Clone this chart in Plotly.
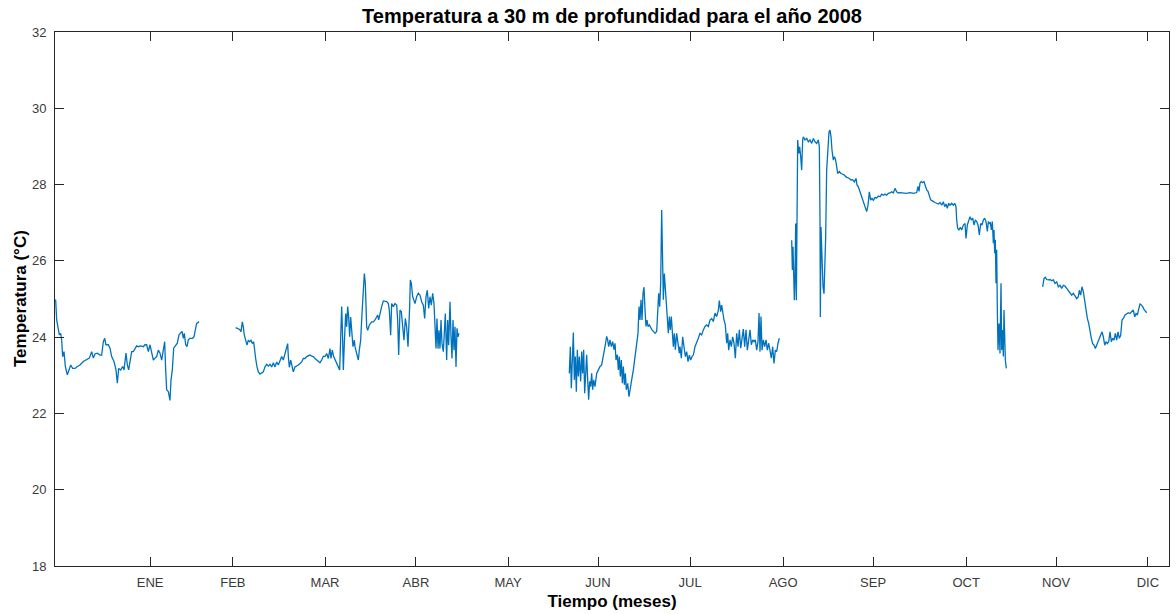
import plotly.graph_objects as go

# Serie de temperatura a 30 m, en tramos separados por huecos sin registro.
# Cada tramo: pares (día, temperatura en °C).
tramo_ene = [
    (0.0, 24.96), (0.22, 24.98), (0.56, 24.45), (1.11, 24.23), (1.44, 24.06), (1.89, 24.10),
    (2.22, 23.93), (2.56, 23.49), (3.0, 23.62), (3.44, 23.23), (4.11, 23.01), (4.67, 23.14),
    (5.22, 23.27), (5.89, 23.18), (6.67, 23.18), (7.44, 23.23), (8.33, 23.27), (9.44, 23.36),
    (10.56, 23.40), (11.44, 23.45), (12.22, 23.62), (12.78, 23.45), (13.33, 23.56), (14.11, 23.58),
    (15.0, 23.53), (15.56, 23.53), (16.11, 23.88), (16.56, 23.97), (17.0, 23.80), (17.78, 23.80),
    (18.33, 23.71), (18.89, 23.49), (19.67, 23.36), (20.33, 23.14), (20.78, 22.79), (21.22, 23.18),
    (21.89, 23.14), (22.56, 23.23), (23.0, 23.14), (23.67, 23.58), (24.11, 23.27), (24.56, 23.14),
    (25.0, 23.36), (25.56, 23.62), (26.11, 23.62), (26.67, 23.71), (27.22, 23.77), (27.78, 23.75),
    (28.56, 23.77), (29.44, 23.75), (30.0, 23.80), (30.56, 23.80), (31.11, 23.62), (31.67, 23.80),
    (32.22, 23.58), (32.78, 23.40), (33.33, 23.45), (33.89, 23.49), (34.44, 23.66), (35.0, 23.58),
    (35.56, 23.40), (36.11, 23.75), (36.56, 23.88), (36.89, 23.14), (37.22, 22.62), (37.78, 22.57),
    (38.33, 22.34), (38.67, 22.88), (39.11, 23.14), (39.56, 23.71), (40.22, 23.80), (40.78, 23.84),
    (41.33, 24.06), (41.89, 24.10), (42.33, 24.15), (42.78, 23.97), (43.11, 24.10), (43.56, 23.80),
    (44.0, 23.75), (44.44, 23.93), (45.0, 23.97), (45.89, 23.97), (46.33, 24.01), (46.78, 24.19),
    (47.22, 24.36), (47.67, 24.38), (48.0, 24.41),
]

tramo_feb_abr = [
    (60.22, 24.25), (60.89, 24.23), (61.56, 24.20), (62.0, 24.14), (62.44, 24.40), (62.78, 24.27),
    (63.11, 24.05), (63.56, 23.92), (64.0, 23.79), (64.44, 23.92), (64.89, 23.88), (65.33, 23.92),
    (65.78, 23.83), (66.22, 23.88), (66.44, 23.70), (66.89, 23.44), (67.33, 23.22), (67.78, 23.09),
    (68.33, 23.03), (68.89, 23.05), (69.44, 23.09), (70.0, 23.22), (70.56, 23.29), (71.11, 23.24),
    (71.67, 23.29), (72.22, 23.22), (72.78, 23.33), (73.33, 23.22), (73.89, 23.35), (74.44, 23.27),
    (75.0, 23.40), (75.56, 23.49), (76.11, 23.40), (76.67, 23.57), (77.22, 23.66), (77.56, 23.83),
    (77.78, 23.49), (78.11, 23.21), (78.56, 23.40), (78.89, 23.31), (79.44, 23.09), (80.0, 23.22),
    (80.56, 23.24), (81.11, 23.27), (81.67, 23.31), (82.22, 23.35), (82.78, 23.44), (83.33, 23.44),
    (83.89, 23.49), (84.44, 23.50), (85.0, 23.53), (85.56, 23.50), (86.11, 23.49), (86.67, 23.44),
    (87.22, 23.40), (87.78, 23.35), (88.33, 23.33), (88.89, 23.40), (89.44, 23.50), (90.0, 23.49),
    (90.56, 23.57), (91.11, 23.44), (91.67, 23.70), (92.0, 23.44), (92.44, 23.66), (92.89, 23.49),
    (93.33, 23.40), (93.89, 23.31), (94.44, 23.22), (94.89, 23.14), (95.22, 23.92), (95.56, 24.80),
    (95.78, 24.27), (96.11, 23.14), (96.44, 23.83), (96.89, 24.62), (97.22, 24.27), (97.56, 24.80),
    (97.89, 24.53), (98.22, 24.01), (98.56, 24.53), (98.89, 24.10), (99.33, 23.75), (99.78, 23.92),
    (100.0, 23.75), (100.56, 23.57), (101.11, 23.40), (101.44, 23.66), (101.89, 23.92), (102.33, 24.62),
    (102.78, 25.32), (103.11, 25.67), (103.44, 25.41), (103.67, 24.71), (103.89, 24.27), (104.22, 24.18),
    (104.78, 24.32), (105.56, 24.40), (106.11, 24.40), (106.67, 24.45), (107.22, 24.53), (107.56, 24.58),
    (107.89, 24.45), (108.33, 24.62), (108.89, 24.80), (109.44, 24.95), (110.0, 24.93), (110.56, 24.93),
    (111.11, 24.88), (111.44, 24.71), (111.89, 24.05), (112.22, 24.88), (112.78, 24.80), (113.33, 24.88),
    (113.89, 24.84), (114.22, 24.45), (114.56, 23.53), (115.0, 24.71), (115.44, 24.67), (115.89, 24.27),
    (116.33, 23.92), (116.78, 24.49), (117.22, 24.27), (117.67, 23.75), (118.0, 24.27), (118.22, 24.80),
    (118.44, 25.50), (118.78, 25.41), (119.22, 25.06), (119.67, 24.97), (120.0, 24.88), (120.56, 25.06),
    (121.11, 25.15), (121.67, 25.10), (122.22, 24.93), (122.78, 24.84), (123.22, 24.49), (123.67, 25.06),
    (124.11, 25.23), (124.56, 24.75), (125.0, 25.06), (125.44, 24.84), (125.89, 25.15), (126.33, 24.88),
    (126.67, 24.14), (127.0, 23.70), (127.33, 24.49), (127.67, 23.70), (128.0, 24.18), (128.33, 23.70),
    (128.67, 24.45), (129.0, 23.83), (129.44, 23.62), (129.78, 24.32), (130.11, 24.62), (130.56, 23.40),
    (130.89, 24.45), (131.22, 23.79), (131.67, 24.93), (132.0, 24.01), (132.33, 23.44), (132.67, 24.45),
    (133.0, 23.66), (133.33, 24.27), (133.67, 23.22), (134.0, 24.23), (134.33, 24.01), (134.67, 24.10),
]

tramo_jun_jul = [
    (171.44, 23.05), (171.78, 23.75), (172.11, 22.66), (172.44, 23.49), (172.78, 24.12), (173.11, 22.88),
    (173.44, 23.49), (173.78, 22.57), (174.11, 23.67), (174.44, 22.97), (174.78, 23.49), (175.22, 22.84),
    (175.56, 23.62), (175.89, 23.05), (176.22, 23.67), (176.56, 22.53), (176.89, 23.23), (177.22, 23.54),
    (177.56, 22.88), (177.89, 22.36), (178.22, 22.84), (178.56, 22.70), (178.89, 23.05), (179.22, 22.62),
    (179.56, 22.88), (180.0, 22.70), (180.56, 23.05), (181.11, 23.14), (181.67, 23.23), (182.22, 23.27),
    (182.78, 23.58), (183.33, 23.75), (183.89, 24.02), (184.22, 23.93), (184.56, 23.75), (185.0, 23.93),
    (185.44, 23.75), (185.89, 23.88), (186.33, 23.67), (186.67, 23.84), (187.0, 23.40), (187.44, 23.54),
    (187.78, 23.14), (188.11, 23.49), (188.44, 22.97), (188.78, 23.40), (189.11, 22.79), (189.44, 23.23),
    (189.78, 22.75), (190.11, 23.05), (190.44, 22.62), (190.89, 22.79), (191.33, 22.44), (191.78, 22.62),
    (192.22, 22.88), (192.78, 23.14), (193.33, 23.49), (193.89, 23.75), (194.33, 24.10), (194.67, 24.80),
    (195.0, 24.45), (195.33, 24.98), (195.67, 24.45), (196.0, 25.15), (196.33, 25.31), (196.67, 24.72),
    (197.0, 24.28), (197.33, 24.45), (197.67, 24.28), (198.11, 24.32), (198.56, 24.23), (199.0, 24.19),
    (199.44, 24.15), (200.0, 24.10), (200.56, 24.15), (200.89, 24.72), (201.22, 25.15), (201.56, 24.80),
    (201.89, 25.41), (202.22, 27.33), (202.44, 25.85), (202.78, 24.98), (203.11, 25.67), (203.44, 25.24),
    (203.78, 24.98), (204.11, 24.54), (204.44, 24.10), (204.78, 24.54), (205.11, 24.19), (205.44, 24.54),
    (205.78, 24.02), (206.11, 23.75), (206.44, 24.10), (206.78, 23.67), (207.22, 24.10), (207.78, 23.75),
    (208.11, 23.58), (208.33, 23.75), (208.78, 23.45), (209.22, 24.01), (209.67, 23.66), (210.11, 23.49),
    (210.56, 23.62), (211.0, 23.36), (211.44, 23.53), (211.89, 23.40), (212.33, 23.49), (212.78, 23.53),
    (213.33, 23.75), (213.89, 23.84), (214.44, 23.97), (215.0, 24.10), (215.56, 24.06), (216.11, 24.19),
    (216.67, 24.28), (217.22, 24.32), (217.78, 24.28), (218.33, 24.45), (218.89, 24.49), (219.44, 24.41),
    (220.0, 24.63), (220.56, 24.54), (221.11, 24.71), (221.44, 24.96), (221.89, 24.67), (222.22, 24.84),
    (222.56, 24.63), (223.0, 24.45), (223.44, 24.32), (223.89, 23.84), (224.22, 24.10), (224.56, 23.66),
    (225.0, 23.93), (225.44, 23.75), (225.89, 24.01), (226.33, 23.84), (226.78, 23.45), (227.22, 24.10),
    (227.67, 23.75), (228.11, 24.19), (228.56, 23.71), (229.0, 23.93), (229.44, 24.21), (229.89, 23.75),
    (230.33, 24.19), (230.78, 23.66), (231.22, 24.01), (231.67, 24.19), (232.11, 23.80), (232.56, 23.93),
    (233.0, 23.88), (233.44, 23.93), (233.89, 23.66), (234.33, 23.88), (234.67, 24.63), (235.0, 23.62),
    (235.33, 24.54), (235.67, 23.66), (236.11, 23.93), (236.56, 23.75), (237.0, 23.93), (237.44, 23.66),
    (237.89, 23.84), (238.33, 23.58), (238.78, 23.45), (239.22, 23.75), (239.67, 23.31), (240.11, 23.66),
    (240.56, 23.62), (241.0, 23.84), (241.44, 23.97),
]

tramo_ago_oct = [
    (245.56, 26.54), (245.78, 25.76), (246.0, 26.37), (246.22, 25.32), (246.44, 24.97), (246.67, 25.58),
    (246.89, 26.98), (247.11, 24.97), (247.33, 26.63), (247.56, 29.17), (247.89, 28.82), (248.22, 28.99),
    (248.56, 28.73), (248.89, 28.38), (249.22, 29.17), (249.44, 29.25), (250.0, 29.17), (250.56, 29.21),
    (251.11, 29.12), (251.67, 29.17), (252.22, 29.08), (252.78, 29.21), (253.33, 29.12), (253.89, 29.08),
    (254.44, 29.17), (254.78, 28.99), (255.0, 27.07), (255.11, 24.53), (255.33, 26.89), (255.67, 25.76),
    (256.0, 25.32), (256.33, 25.14), (256.56, 25.67), (256.89, 26.63), (257.22, 28.38), (257.56, 28.99),
    (258.0, 29.38), (258.33, 29.43), (258.67, 29.25), (259.0, 28.90), (259.44, 28.64), (259.78, 28.73),
    (260.11, 28.68), (260.56, 28.47), (260.89, 28.29), (261.44, 28.34), (262.0, 28.29), (262.56, 28.27),
    (263.11, 28.25), (263.67, 28.20), (264.22, 28.19), (264.78, 28.16), (265.33, 28.12), (265.89, 28.13),
    (266.44, 28.07), (267.0, 28.16), (267.33, 27.99), (267.78, 27.94), (268.33, 27.81), (268.89, 27.68),
    (269.44, 27.52), (270.0, 27.42), (270.56, 27.29), (271.0, 27.46), (271.44, 27.81), (271.89, 27.59),
    (272.33, 27.64), (272.78, 27.59), (273.33, 27.66), (273.89, 27.65), (274.44, 27.70), (275.0, 27.68),
    (275.56, 27.75), (276.11, 27.72), (276.67, 27.75), (277.22, 27.72), (277.78, 27.77), (278.33, 27.78),
    (278.89, 27.81), (279.44, 27.78), (280.0, 27.90), (280.56, 27.81), (281.11, 27.78), (281.67, 27.79),
    (282.78, 27.77), (283.89, 27.77), (285.0, 27.79), (286.11, 27.77), (287.22, 27.79), (287.67, 27.95),
    (288.0, 27.82), (288.33, 28.04), (288.78, 28.08), (289.22, 28.05), (289.67, 28.08), (290.11, 27.95),
    (290.56, 27.86), (291.0, 27.82), (291.44, 27.68), (291.89, 27.60), (292.33, 27.58), (292.78, 27.55),
    (293.33, 27.53), (293.89, 27.51), (294.44, 27.49), (295.0, 27.53), (295.56, 27.46), (296.11, 27.55),
    (296.56, 27.42), (297.0, 27.49), (297.44, 27.38), (297.89, 27.51), (298.33, 27.46), (298.89, 27.51),
    (299.44, 27.46), (299.89, 27.51), (300.33, 27.42), (300.56, 27.07), (300.89, 26.85), (301.33, 26.81),
    (301.78, 26.88), (302.22, 26.81), (302.78, 26.94), (303.33, 26.98), (303.67, 26.59), (304.11, 26.94),
    (304.56, 27.03), (305.0, 27.16), (305.44, 27.07), (305.89, 27.12), (306.33, 26.94), (306.78, 27.07),
    (307.22, 27.03), (307.67, 26.94), (308.11, 26.68), (308.56, 26.98), (309.0, 26.94), (309.44, 27.07),
    (309.89, 27.12), (310.33, 27.03), (310.78, 26.77), (311.11, 27.03), (311.44, 26.98), (311.78, 27.00),
    (312.11, 26.81), (312.44, 27.03), (312.78, 26.46), (313.0, 26.81), (313.22, 26.20), (313.44, 26.55),
    (313.67, 25.41), (313.89, 26.29), (314.11, 24.71), (314.33, 23.66), (314.67, 24.36), (315.0, 23.57),
    (315.33, 25.41), (315.56, 23.66), (315.89, 24.19), (316.11, 23.49), (316.33, 24.71), (316.56, 23.66),
    (316.78, 23.40), (317.11, 23.18),
]

tramo_nov_dic = [
    (329.22, 25.32), (329.67, 25.54), (330.11, 25.57), (330.56, 25.51), (331.11, 25.50), (331.67, 25.51),
    (332.22, 25.48), (332.78, 25.50), (333.33, 25.41), (333.89, 25.45), (334.44, 25.32), (335.0, 25.36),
    (335.56, 25.28), (336.11, 25.36), (336.67, 25.34), (337.22, 25.28), (337.78, 25.19), (338.33, 25.15),
    (338.89, 25.10), (339.44, 25.15), (340.0, 25.06), (340.56, 25.01), (341.11, 25.06), (341.44, 25.23),
    (341.89, 25.10), (342.33, 25.32), (342.78, 25.19), (343.22, 24.97), (343.67, 24.62), (344.11, 24.49),
    (344.56, 24.36), (345.0, 24.14), (345.44, 23.97), (345.89, 23.83), (346.33, 23.79), (346.78, 23.70),
    (347.22, 23.79), (347.67, 23.88), (348.11, 23.97), (348.56, 24.05), (349.0, 24.14), (349.44, 24.01),
    (349.89, 23.79), (350.33, 23.88), (350.78, 23.83), (351.22, 23.88), (351.67, 24.14), (352.11, 23.88),
    (352.56, 23.97), (353.0, 23.92), (353.44, 24.10), (353.89, 23.92), (354.33, 24.14), (354.78, 23.97),
    (355.22, 24.05), (355.67, 24.45), (356.11, 24.49), (356.67, 24.58), (357.22, 24.60), (357.78, 24.64),
    (358.33, 24.62), (358.89, 24.67), (359.44, 24.71), (359.89, 24.53), (360.33, 24.62), (360.78, 24.58),
    (361.22, 24.71), (361.67, 24.88), (362.11, 24.84), (362.56, 24.80), (363.0, 24.73), (363.44, 24.67),
    (363.89, 24.64),
]

tramos = [tramo_ene, tramo_feb_abr, tramo_jun_jul, tramo_ago_oct, tramo_nov_dic]

# Marcas del eje temporal (día) y sus etiquetas de mes
dias_marca = [31.7, 59.3, 90.0, 120.3, 151.0, 181.0, 211.7, 242.7, 272.7, 303.7, 333.7, 364.3]
meses = ["ENE", "FEB", "MAR", "ABR", "MAY", "JUN", "JUL", "AGO", "SEP", "OCT", "NOV", "DIC"]

COLOR_LINEA = "#0072BD"
COLOR_EJE = "#262626"
FUENTE = "Liberation Sans, Arial, sans-serif"

fig = go.Figure()
for tramo in tramos:
    fig.add_trace(go.Scatter(
        x=[p[0] for p in tramo],
        y=[p[1] for p in tramo],
        mode="lines",
        line=dict(color=COLOR_LINEA, width=1.3),
        showlegend=False,
        hoverinfo="x+y",
    ))

eje_comun = dict(
    showline=True, linecolor=COLOR_EJE, linewidth=1, mirror="ticks",
    ticks="inside", ticklen=9, tickwidth=1, tickcolor=COLOR_EJE,
    showgrid=False, zeroline=False,
    tickfont=dict(family=FUENTE, size=13, color="#3a3a3a"),
)

fig.update_layout(
    width=1176, height=614,
    margin=dict(l=55, r=7, t=32, b=48),
    paper_bgcolor="white", plot_bgcolor="white",
    title=dict(
        text="<b>Temperatura a 30 m de profundidad para el año 2008</b>",
        font=dict(family=FUENTE, size=20, color="black"),
        x=0.5, xref="paper", xanchor="center",
        y=1 - 16 / 614, yref="container", yanchor="middle",
    ),
    xaxis=dict(
        eje_comun, range=[0, 371.33], tickmode="array",
        tickvals=dias_marca, ticktext=meses, ticklabelstandoff=4,
        title=dict(text="<b>Tiempo (meses)</b>",
                   font=dict(family=FUENTE, size=17, color="black"), standoff=6),
    ),
    yaxis=dict(
        eje_comun, range=[18, 32], tickmode="linear", tick0=18, dtick=2,
        ticklabelstandoff=5,
    ),
)

# Rótulo del eje vertical, girado y colocado junto a las etiquetas
fig.add_annotation(
    text="<b>Temperatura (°C)</b>", textangle=-90,
    xref="paper", yref="paper", x=-(55 - 20) / 1114, y=0.5,
    xanchor="center", yanchor="middle", showarrow=False,
    font=dict(family=FUENTE, size=17, color="black"),
)

fig.write_html("out.html")
